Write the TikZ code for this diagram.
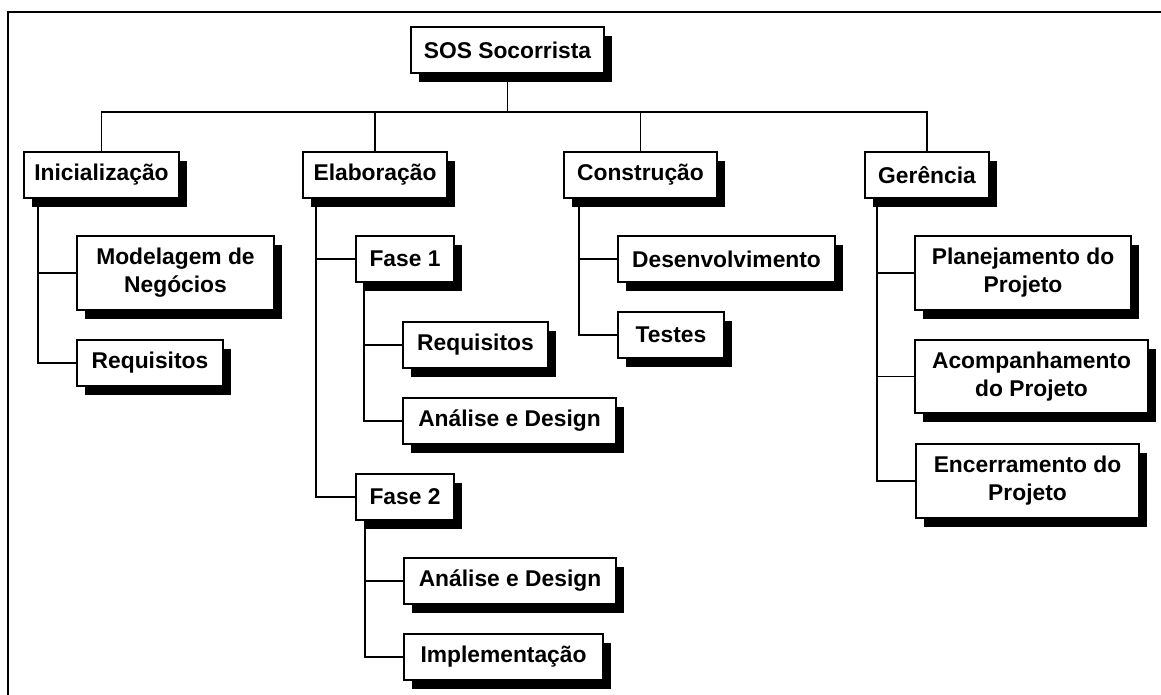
\documentclass[tikz,border=0pt]{standalone}
\usepackage{fontspec}
\setmainfont{Liberation Sans}
\usetikzlibrary{shadows}
\begin{document}
\begin{tikzpicture}[x=1pt,y=-1pt,
  box/.style={draw=black, line width=1.6pt, fill=white, inner sep=0pt,
    align=center, font=\fontsize{22.8}{28}\selectfont\bfseries,
    drop shadow={shadow xshift=8pt, shadow yshift=-9pt, fill=black, opacity=1}},
  link/.style={draw=black, line width=1.6pt},
  frameline/.style={draw=black, line width=2pt}]
\useasboundingbox (0,0) rectangle (1161,695);

% outer frame (only top and left edges lie inside the page)
\draw[frameline] (8,700) -- (8,12) -- (1170,12);

% level 0 and level 1
\coordinate (busy) at (0,112);
\node[box, minimum width=193pt, minimum height=46pt] (sos) at (507.5,50) {SOS Socorrista};
\node[box, minimum width=155pt, minimum height=46pt] (ini) at (101.5,175) {Inicialização};
\node[box, minimum width=144pt, minimum height=46pt] (ela) at (375,175) {Elaboração};
\node[box, minimum width=153pt, minimum height=46pt] (con) at (640.5,175) {Construção};
\node[box, minimum width=124pt, minimum height=46pt] (ger) at (927,175) {Gerência};

% Inicialização children
\node[box, minimum width=197pt, minimum height=74pt] (mod) at (175.5,273) {Modelagem de\\Negócios};
\node[box, minimum width=146pt, minimum height=46pt] (req1) at (150,363) {Requisitos};

% Elaboração children
\node[box, minimum width=98pt, minimum height=46pt] (f1) at (405,259) {Fase 1};
\node[box, minimum width=145pt, minimum height=46pt] (req2) at (475.5,345) {Requisitos};
\node[box, minimum width=213pt, minimum height=46pt] (ana1) at (509.5,421) {Análise e Design};
\node[box, minimum width=98pt, minimum height=46pt] (f2) at (405,497) {Fase 2};
\node[box, minimum width=212pt, minimum height=46pt] (ana2) at (510,581) {Análise e Design};
\node[box, minimum width=199pt, minimum height=46pt] (imp) at (503.5,657) {Implementação};

% Construção children
\node[box, minimum width=217pt, minimum height=46pt] (des) at (726.5,259) {Desenvolvimento};
\node[box, minimum width=106pt, minimum height=46pt] (tes) at (671,335) {Testes};

% Gerência children
\node[box, minimum width=216pt, minimum height=74pt] (pla) at (1023,273) {Planejamento do\\Projeto};
\node[box, minimum width=233pt, minimum height=73pt] (aco) at (1031.5,376.5) {Acompanhamento\\do Projeto};
\node[box, minimum width=223pt, minimum height=74pt] (enc) at (1027.5,481) {Encerramento do\\Projeto};

% connectors: top bus
\path[link] (sos.south) -- (sos.south |- busy);
\path[link] (ini.north) |- (ger.north |- busy) -- (ger.north);
\path[link] (ela.north) -- (ela.north |- busy);
\path[link] (con.north) -- (con.north |- busy);

% connectors: child stems
\path[link] ([xshift=15pt]ini.south west) |- (req1.west);
\path[link] ([xshift=15pt]ini.south west) |- (mod.west);

\path[link] ([xshift=14pt]ela.south west) |- (f2.west);
\path[link] ([xshift=14pt]ela.south west) |- (f1.west);
\path[link] ([xshift=9pt]f1.south west) |- (ana1.west);
\path[link] ([xshift=9pt]f1.south west) |- (req2.west);
\path[link] ([xshift=10pt]f2.south west) |- (imp.west);
\path[link] ([xshift=10pt]f2.south west) |- (ana2.west);

\path[link] ([xshift=16pt]con.south west) |- (tes.west);
\path[link] ([xshift=16pt]con.south west) |- (des.west);

\path[link] ([xshift=13pt]ger.south west) |- (enc.west);
\path[link] ([xshift=13pt]ger.south west) |- (aco.west);
\path[link] ([xshift=13pt]ger.south west) |- (pla.west);
\end{tikzpicture}
\end{document}
